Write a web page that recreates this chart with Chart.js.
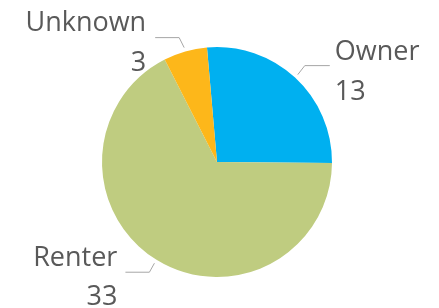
<!DOCTYPE html>
<html><head><meta charset="utf-8">
<script src="https://cdn.jsdelivr.net/npm/chart.js@4"></script>
<style>html,body{margin:0;padding:0;background:#fff}#wrap{width:439px;height:308px}</style>
</head><body><div id="wrap"><canvas id="c" width="439" height="308"></canvas></div>
<script>
const categories = ["Owner", "Renter", "Unknown"];
const values = [13, 33, 3];
const colors = ["#00B0F0", "#BFCC80", "#FDB71A"];

// label geometry per slice: elbow / end offsets from leader start, alignment
const labelLayout = [
  {elbow:[7,-9], end:[32,-9], align:"left", dx:5, nameDy:-6, valDy:34},
  {elbow:[-5,9], end:[-29,9], align:"right", dx:-8, nameDy:-6, valDy:33},
  {elbow:[-5,-10], end:[-29,-10], align:"right", dx:-9, nameDy:-7, valDy:33}
];
const FONT = '27px "Open Sans", "Noto Sans", sans-serif';

const labelPlugin = {
  id: 'leaderLabels',
  afterDatasetsDraw(chart) {
    const ctx = chart.ctx;
    const meta = chart.getDatasetMeta(0);
    meta.data.forEach((arc, i) => {
      const p = arc.getProps(['x','y','startAngle','endAngle','outerRadius'], true);
      const mid = (p.startAngle + p.endAngle) / 2;
      const r = p.outerRadius + 4;
      const sx = p.x + Math.cos(mid) * r, sy = p.y + Math.sin(mid) * r;
      const L = labelLayout[i];
      const ex = sx + L.end[0], ey = sy + L.end[1];
      ctx.save();
      ctx.strokeStyle = '#A6A6A6';
      ctx.lineWidth = 1;
      ctx.beginPath();
      ctx.moveTo(sx, sy);
      ctx.lineTo(sx + L.elbow[0], sy + L.elbow[1]);
      ctx.lineTo(ex, ey);
      ctx.stroke();
      ctx.fillStyle = '#595959';
      ctx.font = FONT;
      ctx.textAlign = L.align;
      ctx.textBaseline = 'alphabetic';
      ctx.fillText(categories[i], ex + L.dx, ey + L.nameDy);
      ctx.fillText(String(values[i]), ex + L.dx, ey + L.valDy);
      ctx.restore();
    });
  }
};

new Chart(document.getElementById('c'), {
  type: 'pie',
  data: { labels: categories, datasets: [{ data: values, backgroundColor: colors, borderWidth: 0 }] },
  options: {
    responsive: false,
    animation: false,
    rotation: -5,
    layout: { padding: { top: 47, bottom: 31, left: 102, right: 107 } },
    plugins: { legend: { display: false }, tooltip: { enabled: false } }
  },
  plugins: [labelPlugin]
});
</script></body></html>
